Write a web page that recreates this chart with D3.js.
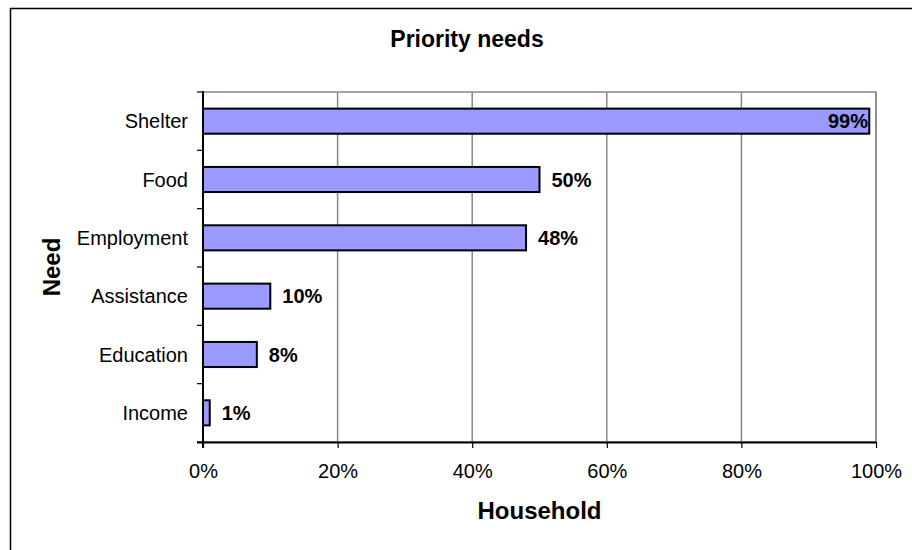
<!DOCTYPE html>
<html>
<head>
<meta charset="utf-8">
<script src="https://cdn.jsdelivr.net/npm/d3@7"></script>
<style>
  html, body { margin: 0; padding: 0; background: #fff; }
  svg { display: block; font-family: "Liberation Sans", Arial, sans-serif; }
</style>
</head>
<body>
<svg id="chart" width="912" height="550"></svg>
<script>
const categories = ["Shelter", "Food", "Employment", "Assistance", "Education", "Income"];
const values = [99, 50, 48, 10, 8, 1];
const xTicks = [0, 20, 40, 60, 80, 100];
const title = "Priority needs";
const xTitle = "Household";
const yTitle = "Need";

const svg = d3.select("#chart");
const W = 912, H = 550;
const plot = { left: 203, right: 876, top: 92, bottom: 442 };

// outer chart border (extends beyond right/bottom edge)
svg.append("rect")
  .attr("x", 10.5).attr("y", 8.5)
  .attr("width", 940).attr("height", 600)
  .attr("fill", "#fff").attr("stroke", "#000").attr("stroke-width", 1.5);

const x = d3.scaleLinear().domain([0, 100]).range([plot.left, plot.right]);
const y = d3.scaleBand().domain(categories).range([plot.top, plot.bottom]).padding(0);

// plot border (gray top/right)
svg.append("rect")
  .attr("x", plot.left).attr("y", plot.top)
  .attr("width", plot.right - plot.left).attr("height", plot.bottom - plot.top)
  .attr("fill", "#fff").attr("stroke", "#888").attr("stroke-width", 1.5);

// gridlines
svg.append("g").selectAll("line").data(xTicks.filter(d => d > 0)).join("line")
  .attr("x1", d => x(d)).attr("x2", d => x(d))
  .attr("y1", plot.top).attr("y2", plot.bottom)
  .attr("stroke", "#888").attr("stroke-width", 1.5);

// bars
const barH = y.bandwidth() * 0.43;
svg.append("g").selectAll("rect").data(categories).join("rect")
  .attr("x", x(0))
  .attr("y", d => y(d) + y.bandwidth() / 2 - barH / 2)
  .attr("width", (d, i) => x(values[i]) - x(0))
  .attr("height", barH)
  .attr("fill", "#9999ff").attr("stroke", "#000").attr("stroke-width", 2);

// x axis
const xAxis = d3.axisBottom(x).tickValues(xTicks).tickFormat(d => d + "%").tickSize(6).tickPadding(16);
const gx = svg.append("g").attr("transform", `translate(0,${plot.bottom})`).call(xAxis);
gx.select(".domain").attr("stroke", "#000").attr("stroke-width", 2).attr("d", `M${plot.left - 6},0.5H${plot.right}`);
gx.selectAll(".tick line").attr("stroke", "#000").attr("stroke-width", 1.2);
gx.selectAll(".tick text").attr("fill", "#000").style("font-size", "20px").style("font-family", "Liberation Sans, Arial, sans-serif");

// y axis with ticks between categories
const gy = svg.append("g").attr("transform", `translate(${plot.left},0)`);
gy.append("line").attr("x1", 0).attr("x2", 0).attr("y1", plot.top - 1).attr("y2", plot.bottom + 6)
  .attr("stroke", "#000").attr("stroke-width", 2);
const boundaries = d3.range(categories.length + 1).map(i => plot.top + i * y.step());
gy.selectAll("line.tk").data(boundaries).join("line").attr("class", "tk")
  .attr("x1", -6).attr("x2", 0).attr("y1", d => d).attr("y2", d => d)
  .attr("stroke", "#000").attr("stroke-width", 1.2);
gy.selectAll("text").data(categories).join("text")
  .attr("x", -15).attr("y", d => y(d) + y.bandwidth() / 2)
  .attr("dy", "0.35em").attr("text-anchor", "end")
  .style("font-size", "20px").attr("fill", "#000").text(d => d);

// data labels
const lbl = svg.append("g").selectAll("text").data(categories).join("text")
  .attr("y", d => y(d) + y.bandwidth() / 2).attr("dy", "0.35em")
  .style("font-size", "20px").style("font-weight", "bold").attr("fill", "#000")
  .text((d, i) => values[i] + "%");
lbl.each(function(d, i) {
  const w = this.getComputedTextLength();
  let px = x(values[i]) + 12;
  if (px + w > plot.right - 8) px = plot.right - 8 - w;
  d3.select(this).attr("x", px);
});

// titles
svg.append("text").attr("x", 467).attr("y", 47).attr("text-anchor", "middle")
  .style("font-size", "23px").style("font-weight", "bold").text(title);
svg.append("text").attr("x", (plot.left + plot.right) / 2).attr("y", 519).attr("text-anchor", "middle")
  .style("font-size", "24px").style("font-weight", "bold").text(xTitle);
svg.append("text").attr("transform", `translate(60,${(plot.top + plot.bottom) / 2}) rotate(-90)`)
  .attr("text-anchor", "middle")
  .style("font-size", "24px").style("font-weight", "bold").text(yTitle);
</script>
</body>
</html>
